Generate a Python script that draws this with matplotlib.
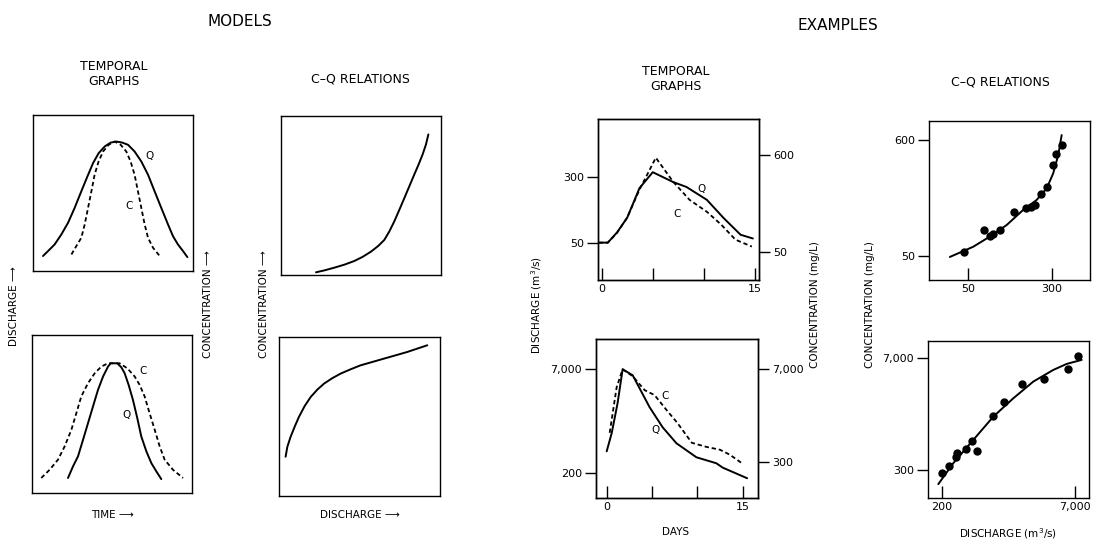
import matplotlib.pyplot as plt
from matplotlib.ticker import NullLocator

W, H = 1093, 543

# ---- MODELS, temporal graphs (relative units, 0-1) ----
m_top_q_x = [0.0625, 0.098, 0.135, 0.177, 0.219, 0.26, 0.302, 0.34, 0.375, 0.41, 0.448, 0.485, 0.521,
             0.558, 0.594, 0.635, 0.677, 0.719, 0.76, 0.802, 0.844, 0.875, 0.906, 0.9375, 0.965]
m_top_q_y = [0.096, 0.132, 0.17, 0.234, 0.309, 0.404, 0.511, 0.606, 0.691, 0.755, 0.798, 0.823, 0.83,
             0.823, 0.809, 0.766, 0.702, 0.617, 0.511, 0.404, 0.298, 0.223, 0.17, 0.128, 0.089]
m_top_c_x = [0.24, 0.271, 0.302, 0.323, 0.344, 0.365, 0.385, 0.41, 0.438, 0.473, 0.51,
             0.548, 0.583, 0.61, 0.635, 0.656, 0.677, 0.698, 0.719, 0.75, 0.792]
m_top_c_y = [0.106, 0.16, 0.213, 0.298, 0.404, 0.511, 0.617, 0.702, 0.766, 0.809, 0.83,
             0.809, 0.766, 0.702, 0.617, 0.511, 0.404, 0.298, 0.213, 0.149, 0.096]

m_bot_q_x = [0.225, 0.256, 0.2875, 0.319, 0.35, 0.381, 0.4125, 0.444, 0.475, 0.492, 0.533,
             0.558, 0.579, 0.604, 0.631, 0.658, 0.683, 0.715, 0.746, 0.777, 0.808]
m_bot_q_y = [0.095, 0.168, 0.232, 0.337, 0.442, 0.547, 0.653, 0.737, 0.8, 0.821, 0.821,
             0.796, 0.758, 0.684, 0.589, 0.474, 0.358, 0.263, 0.189, 0.137, 0.088]
m_bot_c_x = [0.058, 0.11, 0.1625, 0.204, 0.246, 0.277, 0.308, 0.35, 0.392, 0.433, 0.475,
             0.548, 0.596, 0.642, 0.673, 0.704, 0.735, 0.767, 0.798, 0.829, 0.881, 0.944]
m_bot_c_y = [0.095, 0.147, 0.211, 0.295, 0.4, 0.505, 0.611, 0.695, 0.758, 0.8, 0.821,
             0.821, 0.789, 0.737, 0.684, 0.611, 0.505, 0.4, 0.295, 0.211, 0.147, 0.095]

# ---- MODELS, C-Q relations ----
m_cq_top_x = [0.219, 0.271, 0.333, 0.396, 0.458, 0.51, 0.5625, 0.608, 0.646, 0.677,
              0.708, 0.74, 0.771, 0.802, 0.833, 0.86, 0.885, 0.906, 0.921]
m_cq_top_y = [0.017, 0.029, 0.046, 0.065, 0.088, 0.114, 0.147, 0.183, 0.221, 0.274,
              0.337, 0.411, 0.484, 0.558, 0.632, 0.695, 0.758, 0.821, 0.884]
m_cq_bot_x = [0.041, 0.052, 0.072, 0.097, 0.124, 0.159, 0.197, 0.238, 0.28, 0.331,
              0.383, 0.445, 0.507, 0.58, 0.652, 0.725, 0.797, 0.859, 0.921]
m_cq_bot_y = [0.247, 0.31, 0.372, 0.435, 0.498, 0.565, 0.623, 0.669, 0.707, 0.741,
              0.77, 0.797, 0.822, 0.843, 0.864, 0.885, 0.906, 0.927, 0.948]

# ---- EXAMPLES, temporal graphs ----
ex1_q_day = [-0.3, 0.6, 1.5, 2.5, 3.7, 5.0, 7.0, 8.3, 10.3, 11.9, 13.6, 14.8]
ex1_q = [50, 50, 66, 99, 222, 343, 262, 229, 161, 99, 62, 56]
ex1_c_day = [-0.3, 0.6, 1.5, 2.5, 3.7, 5.3, 7.0, 8.6, 10.3, 11.7, 13.1, 14.7]
ex1_c = [63, 63, 81, 120, 245, 556, 300, 189, 139, 100, 68, 57]

ex2_q_day = [0.0, 0.55, 1.2, 1.76, 2.87, 4.74, 6.17, 7.7, 9.9, 12.1, 12.8, 15.5]
ex2_q = [424, 786, 2190, 7000, 5700, 1910, 966, 558, 346, 282, 243, 169]
ex2_c_day = [0.33, 1.1, 1.76, 2.87, 4.19, 5.29, 6.6, 7.8, 9.4, 11.0, 12.5, 13.6, 15.0]
ex2_c = [802, 3800, 7000, 5530, 3440, 2900, 1750, 1125, 571, 497, 451, 380, 280]

# ---- EXAMPLES, C-Q relations ----
ex1_pts_q = [46, 70, 80, 85, 100, 133, 172, 190, 209, 237, 268, 304, 326, 370]
ex1_pts_c = [55, 87, 76, 80, 87, 129, 139, 144, 149, 189, 218, 351, 444, 539]
ex1_fit_q = [34, 56, 80, 114, 162, 216, 268, 308, 343, 369]
ex1_fit_c = [49, 61, 76, 97, 134, 166, 213, 294, 435, 668]

ex2_pts_q = [200, 243, 293, 303, 383, 445, 517, 780, 1063, 1691, 3091, 5861, 7654]
ex2_pts_c = [274, 338, 428, 479, 541, 683, 515, 1375, 2038, 3349, 3845, 5031, 7324]
ex2_fit_q = [183, 272, 464, 793, 1351, 2303, 3929, 5612, 8376]
ex2_fit_c = [202, 362, 695, 1337, 2235, 3570, 4954, 5859, 6563]

plt.rcParams['font.family'] = 'DejaVu Sans'
plt.rcParams['axes.linewidth'] = 1.0

fig = plt.figure(figsize=(W / 100, H / 100), dpi=100)


def box(x0, y0, x1, y1):
    return fig.add_axes([x0 / W, 1 - y1 / H, (x1 - x0) / W, (y1 - y0) / H])


def label(x, y, s, size=7.5, rot=0):
    fig.text(x / W, 1 - y / H, s, ha='center', va='center', fontsize=size, rotation=rot)


def model_axes(x0, y0, x1, y1):
    ax = box(x0, y0, x1, y1)
    ax.set_xlim(0, 1)
    ax.set_ylim(0, 1)
    ax.set_xticks([])
    ax.set_yticks([])
    return ax


def style_log(ax):
    ax.yaxis.set_minor_locator(NullLocator())
    ax.xaxis.set_minor_locator(NullLocator())


solid = dict(color='black', lw=1.4, solid_capstyle='round', solid_joinstyle='round')
dashed = dict(color='black', lw=1.3, ls=(0, (2.4, 1.6)))

# models - temporal
ax = model_axes(33, 115, 193, 271)
ax.plot(m_top_q_x, m_top_q_y, **solid)
ax.plot(m_top_c_x, m_top_c_y, **dashed)
ax.text(0.73, 0.735, 'Q', fontsize=7.5, ha='center', va='center')
ax.text(0.60, 0.415, 'C', fontsize=7.5, ha='center', va='center')

ax = model_axes(32, 335, 192, 493)
ax.plot(m_bot_q_x, m_bot_q_y, **solid)
ax.plot(m_bot_c_x, m_bot_c_y, **dashed)
ax.text(0.695, 0.77, 'C', fontsize=7.5, ha='center', va='center')
ax.text(0.59, 0.495, 'Q', fontsize=7.5, ha='center', va='center')

# models - C-Q
ax = model_axes(281, 116, 441, 275)
ax.plot(m_cq_top_x, m_cq_top_y, **solid)
ax = model_axes(279, 337, 440, 496)
ax.plot(m_cq_bot_x, m_cq_bot_y, **solid)

# examples - temporal, top
ax = box(598, 119, 759, 280)
ax.set_yscale('log')
ax.set_xlim(-0.36, 15.4)
ax.set_ylim(18.0, 1469)
ax.plot(ex1_q_day, ex1_q, **solid)
ax.set_yticks([50, 300])
ax.set_yticklabels(['50', '300'])
ax.set_xticks([0, 5, 10, 15])
ax.set_xticklabels(['0', '', '', '15'])
style_log(ax)
ax.tick_params(axis='y', direction='out', length=8, width=1, pad=2, labelsize=8)
ax.tick_params(axis='x', direction='in', length=9, width=1, pad=3, labelsize=8)
ax.text(9.8, 215, 'Q', fontsize=7.5, ha='center', va='center')
ax2 = ax.twinx()
ax2.set_yscale('log')
ax2.set_ylim(24.2, 1500)
ax2.plot(ex1_c_day, ex1_c, **dashed)
ax2.set_yticks([50, 600])
ax2.set_yticklabels(['50', '600'])
style_log(ax2)
ax2.tick_params(axis='y', direction='out', length=8, width=1, pad=2, labelsize=8)
ax2.text(7.4, 132, 'C', fontsize=7.5, ha='center', va='center')

# examples - temporal, bottom
ax = box(596, 339, 758, 498)
ax.set_yscale('log')
ax.set_xlim(-1.18, 16.7)
ax.set_ylim(86, 19700)
ax.plot(ex2_q_day, ex2_q, **solid)
ax.set_yticks([200, 7000])
ax.set_yticklabels(['200', '7,000'])
ax.set_xticks([0, 5, 10, 15])
ax.set_xticklabels(['0', '', '', '15'])
style_log(ax)
ax.tick_params(axis='y', direction='out', length=8, width=1, pad=2, labelsize=8)
ax.tick_params(axis='x', direction='in', length=9, width=1, pad=3, labelsize=8)
ax.text(5.4, 880, 'Q', fontsize=7.5, ha='center', va='center')
ax2 = ax.twinx()
ax2.set_yscale('log')
ax2.set_ylim(87, 19660)
ax2.plot(ex2_c_day, ex2_c, **dashed)
ax2.set_yticks([300, 7000])
ax2.set_yticklabels(['300', '7,000'])
style_log(ax2)
ax2.tick_params(axis='y', direction='out', length=8, width=1, pad=2, labelsize=8)
ax2.text(6.4, 2800, 'C', fontsize=7.5, ha='center', va='center')

# examples - C-Q, top
ax = box(929, 121, 1090, 280)
ax.set_xscale('log')
ax.set_yscale('log')
ax.set_xlim(21.8, 675)
ax.set_ylim(29.9, 903)
ax.plot(ex1_fit_q, ex1_fit_c, **solid)
ax.plot(ex1_pts_q, ex1_pts_c, 'o', color='black', ms=5)
ax.set_xticks([50, 300])
ax.set_xticklabels(['50', '300'])
ax.set_yticks([50, 600])
ax.set_yticklabels(['50', '600'])
style_log(ax)
ax.tick_params(axis='y', direction='out', length=8, width=1, pad=2, labelsize=8)
ax.tick_params(axis='x', direction='in', length=9, width=1, pad=3, labelsize=8)

# examples - C-Q, bottom
ax = box(928, 341, 1089, 498)
ax.set_xscale('log')
ax.set_yscale('log')
ax.set_xlim(139, 10185)
ax.set_ylim(137, 11137)
ax.plot(ex2_fit_q, ex2_fit_c, **solid)
ax.plot(ex2_pts_q, ex2_pts_c, 'o', color='black', ms=5)
ax.set_xticks([200, 7000])
ax.set_xticklabels(['200', '7,000'])
ax.set_yticks([300, 7000])
ax.set_yticklabels(['300', '7,000'])
style_log(ax)
ax.tick_params(axis='y', direction='out', length=8, width=1, pad=2, labelsize=8)
ax.tick_params(axis='x', direction='in', length=9, width=1, pad=3, labelsize=8)

# headings
label(240, 22, 'MODELS', size=11)
label(838, 26, 'EXAMPLES', size=11)
label(114, 74, 'TEMPORAL\nGRAPHS', size=9)
label(360, 79, 'C\u2013Q RELATIONS', size=9)
label(676, 79, 'TEMPORAL\nGRAPHS', size=9)
label(1000, 82, 'C\u2013Q RELATIONS', size=9)

# axis labels
label(14, 306, 'DISCHARGE \u27f6', size=7.5, rot=90)
label(208, 304, 'CONCENTRATION \u27f6', size=7.5, rot=90)
label(264, 304, 'CONCENTRATION \u27f6', size=7.5, rot=90)
label(112, 515, 'TIME \u27f6', size=7.5)
label(360, 515, 'DISCHARGE \u27f6', size=7.5)
label(537, 305, 'DISCHARGE (m$^3$/s)', size=7.5, rot=90)
label(815, 305, 'CONCENTRATION (mg/L)', size=7.5, rot=90)
label(870, 305, 'CONCENTRATION (mg/L)', size=7.5, rot=90)
label(676, 532, 'DAYS', size=7.5)
label(1008, 534, 'DISCHARGE (m$^3$/s)', size=7.5)

fig.savefig('out.png', dpi=100)
